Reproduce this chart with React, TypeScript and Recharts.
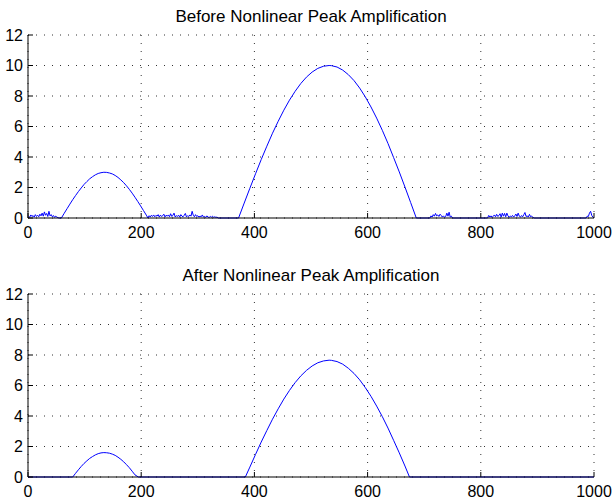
import { CartesianGrid, Line, LineChart, XAxis, YAxis } from "recharts";

const X_TICKS = [0, 200, 400, 600, 800, 1000];
const Y_TICKS = [0, 2, 4, 6, 8, 10, 12];

const TITLE_BEFORE = "Before Nonlinear Peak Amplification";
const TITLE_AFTER = "After Nonlinear Peak Amplification";

// before: noise floor + two arcs
const noiseLeft = [
  [1, 0.12], [3, 0.05], [5, 0.2], [7, 0.1], [9, 0.16], [11, 0.06], [13, 0.22], [15, 0.1],
  [17, 0.18], [19, 0.08], [21, 0.25], [23, 0.14], [25, 0.32], [27, 0.12], [29, 0.4], [31, 0.18],
  [33, 0.3], [35, 0.1], [37, 0.44], [39, 0.14], [41, 0.22], [43, 0.08], [45, 0.16], [47, 0.04],
  [49, 0.12], [51, 0.06], [53, 0.02], [55, 0],
];
const arcSmall = [
  [59, 0], [64, 0.31], [69, 0.61], [74, 0.91], [79, 1.2], [84, 1.47], [89, 1.73], [94, 1.97],
  [99, 2.2], [104, 2.39], [109, 2.57], [114, 2.71], [119, 2.83], [124, 2.92], [129, 2.97],
  [134, 3.0], [139, 2.99], [144, 2.95], [149, 2.89], [154, 2.79], [159, 2.66], [164, 2.5],
  [169, 2.32], [174, 2.11], [179, 1.88], [184, 1.63], [189, 1.36], [194, 1.08], [199, 0.79],
  [204, 0.49], [209, 0.19], [212, 0],
];
const noiseMiddle = [
  [214, 0.15], [216, 0.06], [218, 0.18], [220, 0.1], [222, 0.2], [224, 0.08], [226, 0.17],
  [228, 0.12], [230, 0.22], [232, 0.06], [234, 0.19], [236, 0.1], [238, 0.15], [240, 0.25],
  [242, 0.07], [244, 0.18], [246, 0.12], [248, 0.2], [250, 0.08], [252, 0.28], [254, 0.1],
  [256, 0.17], [258, 0.32], [260, 0.07], [262, 0.15], [264, 0.1], [266, 0.19], [268, 0.06],
  [270, 0.22], [272, 0.12], [274, 0.08], [276, 0.18], [278, 0.3], [280, 0.07], [282, 0.15],
  [284, 0.1], [286, 0.2], [288, 0.12], [290, 0.44], [292, 0.18], [294, 0.08], [296, 0.22],
  [298, 0.1], [300, 0.15], [302, 0.06], [304, 0.12], [306, 0.08], [308, 0.2], [310, 0.06],
  [312, 0.1], [314, 0.04], [316, 0.14], [318, 0.06], [320, 0.03], [322, 0.1], [324, 0.05],
  [326, 0.12], [328, 0.03], [330, 0.08], [332, 0.04], [334, 0.06], [336, 0],
];
const arcLarge = [
  [372, 0], [382, 0.98], [392, 1.95], [402, 2.9], [412, 3.83], [422, 4.71], [432, 5.56],
  [442, 6.34], [452, 7.07], [462, 7.73], [472, 8.31], [482, 8.82], [492, 9.24], [502, 9.57],
  [512, 9.81], [522, 9.95], [532, 10.0], [536, 9.99], [546, 9.9], [556, 9.7], [566, 9.4],
  [576, 9.01], [586, 8.52], [596, 7.94], [606, 7.28], [616, 6.55], [626, 5.75], [636, 4.89],
  [646, 3.96], [656, 3.02], [666, 2.03], [676, 1.02], [686, 0],
];
const noiseRight = [
  [710, 0], [712, 0.14], [714, 0.06], [716, 0.22], [718, 0.12], [720, 0.3], [722, 0.14],
  [724, 0.2], [726, 0.1], [728, 0.25], [730, 0.17], [732, 0.06], [734, 0.14], [736, 0.05],
  [738, 0.1], [740, 0.32], [742, 0.12], [744, 0.38], [746, 0.06], [748, 0.12], [750, 0],
  [812, 0], [814, 0.17], [816, 0.06], [818, 0.14], [820, 0.04], [822, 0.12], [824, 0.2],
  [826, 0.08], [828, 0.24], [830, 0.1], [832, 0.16], [834, 0.28], [836, 0.06], [838, 0.32],
  [840, 0.12], [842, 0.3], [844, 0.08], [846, 0.32], [848, 0.14], [850, 0.05], [852, 0.12],
  [854, 0.08], [856, 0.17], [858, 0.06], [860, 0.14], [862, 0.26], [864, 0.1], [866, 0.32],
  [868, 0.12], [870, 0.06], [872, 0.16], [874, 0.08], [876, 0.22], [878, 0.36], [880, 0.1],
  [882, 0.14], [884, 0.06], [886, 0.24], [888, 0.08], [890, 0.12], [892, 0.05], [894, 0],
  [986, 0], [988, 0.12], [990, 0.1], [992, 0.32], [994, 0.44], [996, 0.17], [998, 0.06], [1000, 0],
];

// after: noise removed, arcs lowered
const afterSmall = [
  [0, 0], [79, 0], [84, 0.24], [89, 0.47], [94, 0.69], [99, 0.89], [104, 1.06], [109, 1.22],
  [114, 1.34], [119, 1.45], [124, 1.53], [129, 1.58], [134, 1.6], [139, 1.59], [144, 1.56],
  [149, 1.5], [154, 1.42], [159, 1.3], [164, 1.16], [169, 1.0], [174, 0.81], [179, 0.61],
  [184, 0.38], [189, 0.14], [195, 0],
];
const afterLarge = [
  [384, 0], [392, 0.65], [402, 1.48], [412, 2.29], [422, 3.05], [432, 3.79], [442, 4.47],
  [452, 5.11], [462, 5.68], [472, 6.19], [482, 6.63], [492, 6.99], [502, 7.28], [512, 7.49],
  [522, 7.61], [532, 7.66], [536, 7.65], [546, 7.57], [556, 7.4], [566, 7.13], [576, 6.79],
  [586, 6.37], [596, 5.86], [606, 5.29], [616, 4.65], [626, 3.96], [636, 3.21], [646, 2.4],
  [656, 1.58], [666, 0.72], [674, 0], [1000, 0],
];

const toRows = (...parts: number[][][]) =>
  parts.flat().map(([x, y]) => ({ x, y }));

const beforeData = toRows(noiseLeft, arcSmall, noiseMiddle, arcLarge, noiseRight);
const afterData = toRows(afterSmall, afterLarge);

const FONT = "'Liberation Sans', Arial, sans-serif";
const tickStyle = { fill: "#000", fontSize: 16, fontFamily: FONT };

function Panel({ data, height, top, axisHeight }: { data: { x: number; y: number }[]; height: number; top: number; axisHeight: number }) {
  return (
    <LineChart width={614} height={height} data={data} margin={{ top, right: 20, bottom: 0, left: 0 }}>
      <CartesianGrid stroke="#333" strokeDasharray="1 7" />
      <XAxis
        dataKey="x"
        type="number"
        domain={[0, 1000]}
        ticks={X_TICKS}
        height={axisHeight}
        tickSize={-5}
        tickMargin={14}
        tick={tickStyle}
        stroke="#000"
      />
      <XAxis xAxisId="t" orientation="top" dataKey="x" type="number" domain={[0, 1000]} ticks={X_TICKS} height={0} tickSize={-5} tick={false} stroke="#000" />
      <YAxis
        type="number"
        domain={[0, 12]}
        ticks={Y_TICKS}
        width={28}
        tickSize={-5}
        tickMargin={10}
        tick={tickStyle}
        stroke="#000"
      />
      <YAxis yAxisId="r" orientation="right" type="number" domain={[0, 12]} ticks={Y_TICKS} width={0} tickSize={-5} tick={false} stroke="#000" />
      <Line type="linear" dataKey="y" stroke="#0000ff" strokeWidth={1} dot={false} isAnimationActive={false} />
    </LineChart>
  );
}

export default function App() {
  return (
    <div style={{ position: "fixed", left: 0, top: 0, width: 614, height: 501, background: "#fff" }}>
      <div style={{ position: "absolute", left: 0, top: 0 }}>
        <Panel data={beforeData} height={250} top={35} axisHeight={32} />
      </div>
      <div style={{ position: "absolute", left: 0, top: 250 }}>
        <Panel data={afterData} height={251} top={44} axisHeight={24} />
      </div>
      <svg width={614} height={501} style={{ position: "absolute", left: 0, top: 0, pointerEvents: "none" }}>
        <text x={311} y={22} textAnchor="middle" fontSize={17} fontFamily={FONT} fill="#000">{TITLE_BEFORE}</text>
        <text x={311} y={281} textAnchor="middle" fontSize={17} fontFamily={FONT} fill="#000">{TITLE_AFTER}</text>
      </svg>
    </div>
  );
}
